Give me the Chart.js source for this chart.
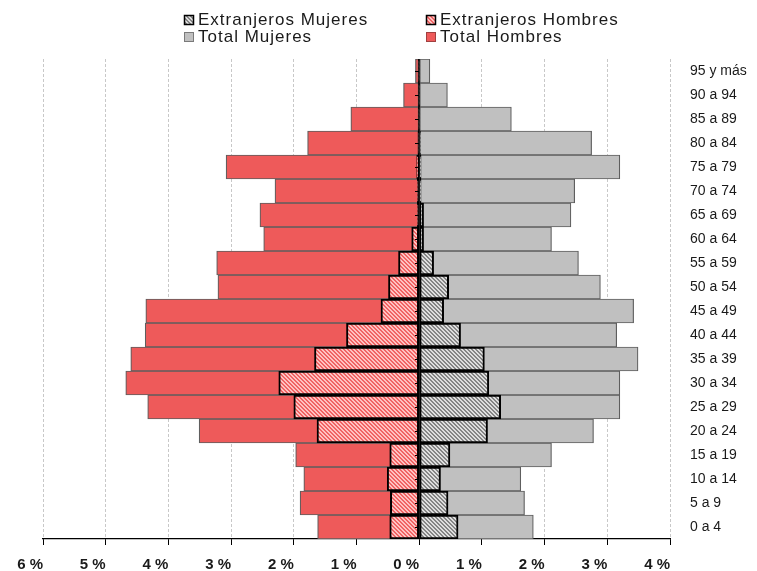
<!DOCTYPE html>
<html><head><meta charset="utf-8">
<script src="https://cdn.jsdelivr.net/npm/chart.js@4/dist/chart.umd.min.js"></script>
<style>html,body{margin:0;padding:0;background:#fff}canvas{display:block}</style>
</head><body>
<canvas id="c" width="757" height="571"></canvas>
<script>
// ---- Data (bottom to top), percentages of total population ----
const categories = ["0 a 4","5 a 9","10 a 14","15 a 19","20 a 24","25 a 29","30 a 34","35 a 39","40 a 44","45 a 49","50 a 54","55 a 59","60 a 64","65 a 69","70 a 74","75 a 79","80 a 84","85 a 89","90 a 94","95 y más"];
const totalHombres = [1.62,1.90,1.84,1.97,3.51,4.33,4.68,4.60,4.37,4.36,3.21,3.23,2.48,2.54,2.30,3.08,1.78,1.09,0.25,0.06];
const totalMujeres = [1.82,1.68,1.62,2.11,2.78,3.20,3.20,3.49,3.15,3.42,2.89,2.54,2.11,2.42,2.48,3.20,2.75,1.47,0.45,0.17];
const extranjerosHombres = [0.47,0.46,0.51,0.47,1.63,2.00,2.24,1.67,1.16,0.61,0.49,0.33,0.12,0.03,0.03,0.04,0.02,0.01,0.005,0.01];
const extranjerosMujeres = [0.62,0.46,0.34,0.49,1.09,1.30,1.11,1.04,0.66,0.39,0.47,0.23,0.07,0.07,0.03,0.03,0.02,0.01,0.005,0.01];
const xTickValues = [-6,-5,-4,-3,-2,-1,0,1,2,3,4];
const seriesNames = ["Extranjeros Mujeres","Extranjeros Hombres","Total Mujeres","Total Hombres"];

const canvas = document.getElementById('c');
const ctx = canvas.getContext('2d');

function hatch(base, stripe) {
  const p = document.createElement('canvas');
  p.width = 4; p.height = 4;
  const c = p.getContext('2d');
  c.fillStyle = base; c.fillRect(0, 0, 4, 4);
  c.fillStyle = stripe;
  for (let y = 0; y < 4; y++) for (let x = 0; x < 4; x++) {
    if ((((x - y) % 4) + 4) % 4 < 2) c.fillRect(x, y, 1, 1);
  }
  return ctx.createPattern(p, 'repeat');
}
const RED = '#EE5A5A';
const GRAY = '#C0C0C0';
const redHatch = hatch('#F06464', '#FFC2C2');
const grayHatch = hatch('#858585', '#DEDEDE');

const legendItems = [
  {ds: 0, col: 0, row: 0, fill: grayHatch, stroke: '#000', lw: 1.5},
  {ds: 1, col: 1, row: 0, fill: redHatch, stroke: '#000', lw: 1.5},
  {ds: 2, col: 0, row: 1, fill: GRAY, stroke: '#7a7a7a', lw: 1},
  {ds: 3, col: 1, row: 1, fill: RED, stroke: '#a04040', lw: 1}
];

const customLegend = {
  id: 'customLegend',
  afterDraw(chart) {
    const c = chart.ctx;
    c.save();
    c.font = '17px "Liberation Sans", Arial, sans-serif';
    try { c.letterSpacing = '1px'; } catch (e) {}
    c.textBaseline = 'middle';
    legendItems.forEach(it => {
      const bx = it.col === 0 ? 184.5 : 426.5;
      const by = it.row === 0 ? 15.5 : 32.5;
      c.fillStyle = it.fill;
      c.fillRect(bx, by, 9, 9);
      c.strokeStyle = it.stroke; c.lineWidth = it.lw;
      c.strokeRect(bx, by, 9, 9);
      c.fillStyle = '#1a1a1a';
      c.fillText(chart.data.datasets[it.ds].label, bx + 13.5, by + 5);
    });
    c.restore();
  }
};

const zeroLine = {
  id: 'zeroLine',
  afterDatasetsDraw(chart) {
    const {ctx: c, chartArea, scales: {x, y}} = chart;
    const x0 = Math.round(x.getPixelForValue(0));
    c.save();
    c.strokeStyle = '#000';
    c.lineWidth = 1.5;
    c.beginPath();
    c.moveTo(x0, chartArea.top); c.lineTo(x0, chartArea.bottom);
    c.stroke();
    c.lineWidth = 1;
    c.beginPath();
    categories.forEach((_, i) => {
      const py = Math.round(y.getPixelForValue(i)) + 0.5;
      c.moveTo(x0 - 4, py); c.lineTo(x0, py);
    });
    c.stroke();
    c.restore();
  }
};

new Chart(ctx, {
  type: 'bar',
  data: {
    labels: categories,
    datasets: [
      {label: seriesNames[0], data: extranjerosMujeres, backgroundColor: grayHatch, borderColor: '#000', borderWidth: 2, borderSkipped: false, grouped: false},
      {label: seriesNames[1], data: extranjerosHombres.map(v => -v), backgroundColor: redHatch, borderColor: '#000', borderWidth: 2, borderSkipped: false, grouped: false},
      {label: seriesNames[2], data: totalMujeres, backgroundColor: GRAY, borderColor: '#5e5e5e', borderWidth: 1.2, borderSkipped: false, grouped: false},
      {label: seriesNames[3], data: totalHombres.map(v => -v), backgroundColor: RED, borderColor: '#5e5e5e', borderWidth: 1.2, borderSkipped: false, grouped: false}
    ]
  },
  options: {
    indexAxis: 'y',
    responsive: false,
    animation: false,
    layout: {padding: {top: 59, left: 43, right: 0, bottom: 0}},
    datasets: {bar: {categoryPercentage: 1, barPercentage: 1}},
    plugins: {legend: {display: false}, tooltip: {enabled: false}},
    scales: {
      x: {
        type: 'linear', min: -6, max: 4,
        afterBuildTicks: s => { s.ticks = xTickValues.map(v => ({value: v})); },
        afterFit: s => { s.height = 32; },
        grid: {
          color: c => (c.tick && c.tick.value === 0) ? 'rgba(0,0,0,0)' : '#C8C8C8',
          lineWidth: 1, drawTicks: true, tickLength: 6, tickColor: '#000', tickWidth: 1, tickBorderDash: [0, 0]
        },
        border: {display: true, color: '#000', width: 1.2, dash: [3, 2]},
        ticks: {
          padding: 11,
          align: 'end',
          color: '#1a1a1a',
          font: {family: '"Liberation Sans", Arial, sans-serif', size: 15, weight: 'bold'},
          callback: v => Math.abs(v) + ' %'
        }
      },
      y: {
        type: 'category', position: 'right', reverse: true,
        afterFit: s => { s.width = 87; },
        grid: {display: false, drawTicks: false},
        border: {display: false},
        ticks: {
          padding: 20, crossAlign: 'near', color: '#1a1a1a', autoSkip: false,
          font: {family: '"Liberation Sans", Arial, sans-serif', size: 14}
        }
      }
    }
  },
  plugins: [customLegend, zeroLine]
});
</script>
</body></html>
